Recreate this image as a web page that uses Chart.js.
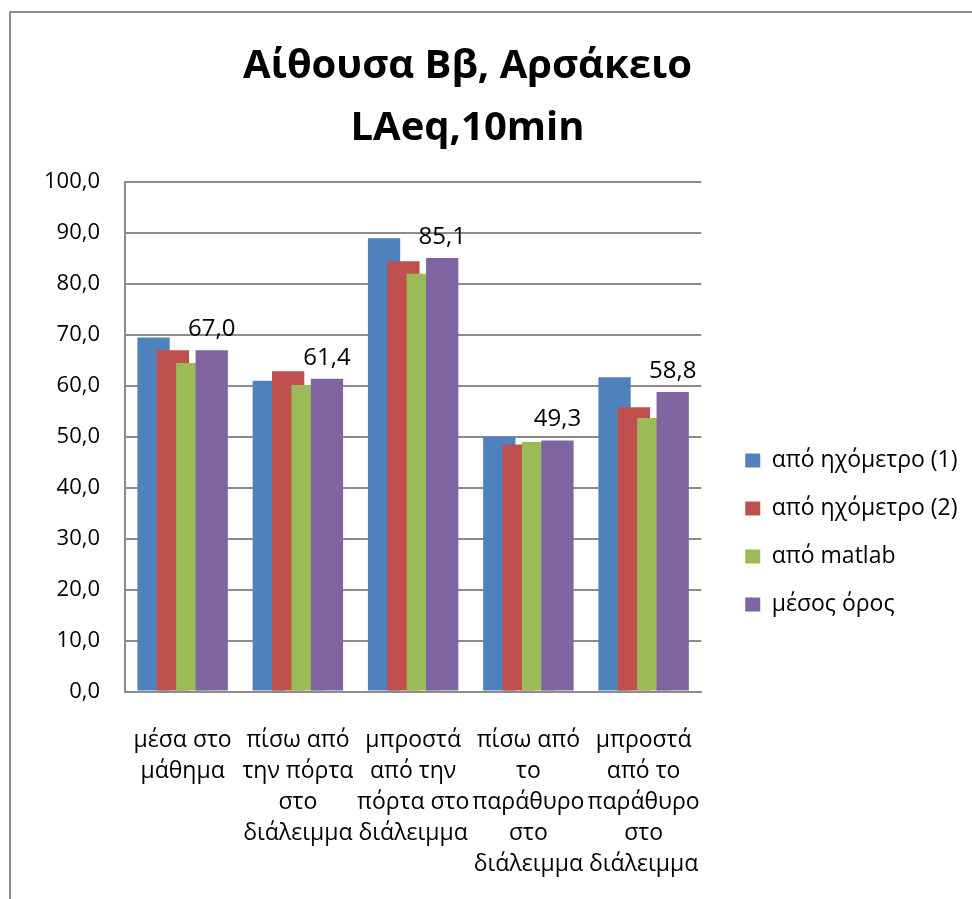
<!DOCTYPE html>
<html>
<head>
<meta charset="utf-8">
<script src="https://cdn.jsdelivr.net/npm/chart.js@4"></script>
<style>
    html, body { margin: 0; padding: 0; background: #fff; overflow: hidden; }
    #wrap { position: relative; width: 972px; height: 899px; }
    #frame { position: absolute; left: 9px; top: 11px; width: 1000px; height: 1000px;
             border: 2px solid #8c8c8c; box-sizing: border-box; }
    #chart { position: absolute; left: 0; top: 0; }
</style>
</head>
<body>
<div id="wrap">
    <div id="frame"></div>
    <canvas id="chart" width="972" height="899"></canvas>
</div>
<script>
// Measurement points (wrapped the way the axis shows them)
const places = [
    ['μέσα στο', 'μάθημα'],
    ['πίσω από', 'την πόρτα', 'στο', 'διάλειμμα'],
    ['μπροστά', 'από την', 'πόρτα στο', 'διάλειμμα'],
    ['πίσω από', 'το', 'παράθυρο', 'στο', 'διάλειμμα'],
    ['μπροστά', 'από το', 'παράθυρο', 'στο', 'διάλειμμα'],
];

// LAeq,10min in dB per source
const meter1 = [69.5, 61.0, 89.0, 50.0, 61.7];
const meter2 = [67.0, 62.9, 84.5, 48.5, 55.8];
const matlab = [64.5, 60.2, 82.0, 49.0, 53.7];
const average = [67.0, 61.4, 85.1, 49.3, 58.8];

const seriesNames = ['από ηχόμετρο (1)', 'από ηχόμετρο (2)', 'από matlab', 'μέσος όρος'];
const seriesColors = ['#4f81bd', '#c0504d', '#9bbb59', '#8064a2'];

const yTicks = { min: 0, max: 100, step: 10 };

const FONT = '"Open Sans", "Noto Sans", sans-serif';
Chart.defaults.font.family = FONT;
Chart.defaults.color = '#000';

function comma(v) {
    return Number(v).toFixed(1).replace('.', ',');
}

// later series are painted over the earlier ones (bars overlap inside a group)
const paintForward = {
    id: 'paintForward',
    beforeDatasetsDraw(chart) {
        chart.getSortedVisibleDatasetMetas().forEach(meta => meta.controller.draw());
        return false;
    }
};

// value labels over the average bars
const averageLabels = {
    id: 'averageLabels',
    afterDraw(chart) {
        const ctx = chart.ctx;
        const meta = chart.getDatasetMeta(3);
        ctx.save();
        ctx.font = '24px ' + FONT;
        ctx.fillStyle = '#000';
        ctx.textAlign = 'center';
        ctx.textBaseline = 'alphabetic';
        meta.data.forEach((bar, i) => {
            ctx.fillText(comma(average[i]), bar.x, bar.y - 14);
        });
        ctx.restore();
    }
};

// legend sits a bit away from the plot and lower down
const legendPlacement = {
    id: 'legendPlacement',
    afterLayout(chart) {
        const lg = chart.legend;
        lg.left += 19;
        lg.right += 40;
        lg.top += 92;
        lg.bottom += 92;
    }
};

const gridColor = '#8c8c8c';

new Chart(document.getElementById('chart'), {
    type: 'bar',
    data: {
        labels: places,
        datasets: [meter1, meter2, matlab, average].map((values, i) => ({
            label: seriesNames[i],
            data: values,
            backgroundColor: seriesColors[i],
            borderWidth: 0,
            barPercentage: 1.665,
            categoryPercentage: 0.673,
        })),
    },
    options: {
        responsive: false,
        animation: false,
        layout: {
            padding: { left: 0, right: 37, top: 0, bottom: 18 }
        },
        plugins: {
            title: {
                display: true,
                text: ['Αίθουσα Ββ, Αρσάκειο', 'LAeq,10min'],
                color: '#000',
                font: { size: 40, weight: 'bold', lineHeight: 1.54 },
                padding: { top: 36, bottom: 23 },
            },
            legend: {
                position: 'right',
                labels: {
                    boxWidth: 15,
                    boxHeight: 14,
                    padding: 25,
                    font: { size: 23 },
                    color: '#000',
                },
            },
            tooltip: { enabled: false },
        },
        scales: {
            x: {
                grid: { display: false },
                border: { display: true, color: gridColor, width: 2 },
                ticks: {
                    autoSkip: false,
                    maxRotation: 0,
                    padding: 25,
                    font: { size: 23, lineHeight: 1.35 },
                },
                afterFit(scale) { scale.height = 189.5; },
            },
            y: {
                min: yTicks.min,
                max: yTicks.max,
                grid: { color: gridColor, lineWidth: 2, drawTicks: false },
                border: { display: true, color: gridColor, width: 2 },
                ticks: {
                    stepSize: yTicks.step,
                    padding: 25,
                    font: { size: 22 },
                    callback: v => comma(v),
                },
                afterFit(scale) { scale.width = 125; },
            },
        },
    },
    plugins: [paintForward, averageLabels, legendPlacement],
});
</script>
</body>
</html>
